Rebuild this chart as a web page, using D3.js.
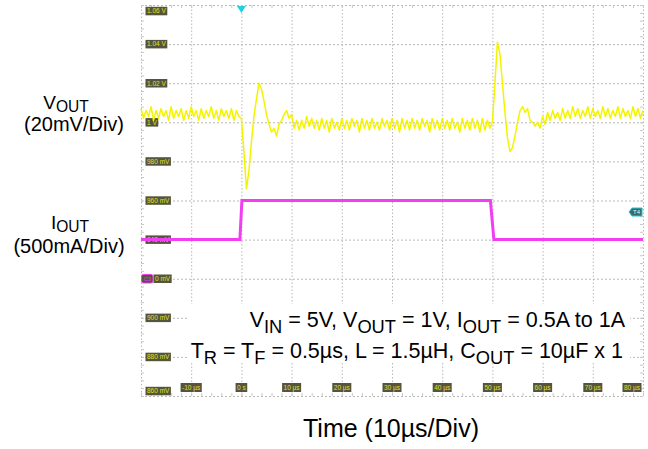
<!DOCTYPE html>
<html><head><meta charset="utf-8">
<script src="https://cdn.jsdelivr.net/npm/d3@7"></script>
<style>body{margin:0;background:#fff}svg{display:block}</style>
</head><body><svg id="c" width="648" height="449"></svg>
<script>
// ---------------- data ----------------
const timeTicks = [-10, 0, 10, 20, 30, 40, 50, 60, 70, 80];          // µs
const timeTickLabels = ["-10 µs","0 s","10 µs","20 µs","30 µs","40 µs","50 µs","60 µs","70 µs","80 µs"];
const voltTicks = [1060, 1040, 1020, 1000, 980, 960, 940, 920, 900, 880, 860];   // mV
const voltTickLabels = ["1.06 V","1.04 V","1.02 V","1 V","980 mV","960 mV","940 mV","0 mV","900 mV","880 mV","860 mV"];

// VOUT samples (mV), one every 0.5 µs starting at -20 µs
const voutStartUs = -20, voutStepUs = 0.5;
const voutMv = [
  1007,1002,1006,1003,1008,1001,1006,1002,1007,1003,
  1006,1001,1008,1002,1006,1003,1007,1001,1006,1002,
  1008,1003,1006,1001,1007,1002,1006,1003,1008,1002,
  1006,1001,1007,1003,1006,1002,1007,1001,1006,1003,
  1002, 985, 966, 975, 990,1003,1012,1020,1017,1011,
  1004, 999, 995, 997, 993, 999,1001,1004,1006,1002,
  1004, 997,1001, 996,1001, 997,1003, 998,1002, 997,
  1001, 996,1002, 997,1001, 995,1002, 997,1000, 996,
  1002, 997,1001, 996,1002, 998,1001, 995,1002, 997,
  1001, 996,1002, 997,1000, 996,1002, 998,1001, 996,
  1002, 997,1001, 995,1002, 997,1001, 996,1002, 997,
  1001, 996,1002, 998,1001, 995,1002, 997,1001, 996,
  1002, 997,1001, 996,1002, 997,1000, 995,1002, 997,
  1001, 996,1002, 997,1001, 995,1002, 996,1001, 997,
  1000,1020,1041,1035,1020,1005, 992, 985, 987, 993,
  1000,1006,1008,1005,1007,1001,1000, 998,1000, 997,
  1003, 999,1005,1001,1006,1002,1005,1001,1007,1002,
  1006,1002,1008,1003,1007,1002,1006,1003,1008,1002,
  1007,1003,1006,1002,1008,1003,1007,1002,1006,1003,
  1008,1002,1007,1003,1006,1002,1008,1003,1007,1002,
  1006
];

// IOUT (A), 500 mA/div, 0 A on the 920 mV grid line
const ioutTimeUs = [-20, -0.3, 0.1, 49.6, 50.3, 80];
const ioutAmps   = [0.5, 0.5, 1.0, 1.0, 0.5, 0.5];

// ---------------- drawing ----------------
const svg = d3.select("#c");
const X0 = 141, X1 = 643, Y0 = 5, Y1 = 396;
const x = d3.scaleLinear().domain([-20, 80]).range([X0, X1]);
const y = d3.scaleLinear().domain([860, 1060]).range([Y1, Y0]);
const yI = d3.scaleLinear().domain([0, 1]).range([y(920), y(960)]);

const grid = svg.append("g");
const vGrid = d3.axisBottom(x).tickValues(d3.range(-20, 81, 10)).tickSize(-(Y1 - Y0)).tickFormat("");
grid.append("g").attr("transform", `translate(0,${Y1})`).call(vGrid)
  .call(g => g.select(".domain").remove())
  .selectAll("line").attr("stroke", "#b8b8b8").attr("stroke-width", 1).attr("stroke-dasharray", "1.5,2");
const hGrid = d3.axisLeft(y).tickValues(d3.range(860, 1061, 20)).tickSize(-(X1 - X0)).tickFormat("");
grid.append("g").attr("transform", `translate(${X0},0)`).call(hGrid)
  .call(g => g.select(".domain").remove())
  .selectAll("line").attr("stroke", "#b8b8b8").attr("stroke-width", 1).attr("stroke-dasharray", "2,2");
const minorX = d3.range(-20, 80.01, 2);
const minorY = d3.range(860, 1060.01, 4);
[[d3.axisTop(x), `translate(0,${Y0})`], [d3.axisBottom(x), `translate(0,${Y1})`]].forEach(([ax, tr]) => {
  grid.append("g").attr("transform", tr).call(ax.tickValues(minorX).tickSize(-3).tickFormat(""))
    .call(g => g.select(".domain").remove())
    .selectAll("line").attr("stroke", "#c8c8c8");
});
[[d3.axisLeft(y), `translate(${X0},0)`], [d3.axisRight(y), `translate(${X1},0)`]].forEach(([ax, tr]) => {
  grid.append("g").attr("transform", tr).call(ax.tickValues(minorY).tickSize(-3).tickFormat(""))
    .call(g => g.select(".domain").remove())
    .selectAll("line").attr("stroke", "#c8c8c8");
});

// white panel behind the conditions text
svg.append("rect").attr("x", 188).attr("y", 304).attr("width", 442).attr("height", 59).attr("fill", "#fff");

// level labels (left)
const lblFont = "Liberation Sans, Arial, sans-serif";
const vl = svg.append("g");
voltTicks.forEach((v, i) => {
  let cy = y(v);
  if (i === 0) cy = y(v) + 6;
  if (i === voltTicks.length - 1) cy = y(v) - 5;
  const isC3 = v === 920;
  const lx = isC3 ? 155 : 147;
  const t = vl.append("text").attr("x", lx).attr("y", cy + 2.3)
    .attr("font-family", lblFont).attr("font-size", 6.5).attr("fill", "#e0e020").text(voltTickLabels[i]);
  const w = t.node().getComputedTextLength();
  vl.insert("rect", "text").attr("x", lx - 1.5).attr("y", cy - 4.2).attr("width", w + 3).attr("height", 8.5).attr("fill", "#55553f");
});
const tl = svg.append("g");
timeTicks.forEach((t, i) => {
  const tx = svg.append("text").attr("font-family", lblFont).attr("font-size", 6.5).text(timeTickLabels[i]);
  const w = tx.node().getComputedTextLength(); tx.remove();
  let cx = x(t);
  if (cx + w / 2 + 2 > X1 - 1) cx = X1 - 1 - w / 2 - 2;
  tl.append("rect").attr("x", cx - w / 2 - 1.5).attr("y", 383).attr("width", w + 3).attr("height", 9).attr("fill", "#55553f");
  tl.append("text").attr("x", cx).attr("y", 390).attr("text-anchor", "middle")
    .attr("font-family", lblFont).attr("font-size", 6.5).attr("fill", "#e0e020").text(timeTickLabels[i]);
});

// C3 ground marker
const c3y = y(920);
svg.append("rect").attr("x", 141.5).attr("y", c3y - 4.3).attr("width", 11.5).attr("height", 8.6).attr("rx", 2)
  .attr("fill", "#55553f").attr("stroke", "#f03cf0").attr("stroke-width", 1);
svg.append("text").attr("x", 147.2).attr("y", c3y + 2.2).attr("text-anchor", "middle")
  .attr("font-family", lblFont).attr("font-size", 5.5).attr("fill", "#f03cf0").text("C3");

// traces
const voutPts = voutMv.map((v, i) => [voutStartUs + i * voutStepUs, v]);
svg.append("path").datum(voutPts)
  .attr("d", d3.line().x(d => x(d[0])).y(d => y(d[1])))
  .attr("fill", "none").attr("stroke", "#f4f400").attr("stroke-width", 1.5).attr("stroke-linejoin", "round");
const ioutPts = ioutTimeUs.map((t, i) => [t, ioutAmps[i]]);
svg.append("path").datum(ioutPts)
  .attr("d", d3.line().x(d => x(d[0])).y(d => yI(d[1])))
  .attr("fill", "none").attr("stroke", "#f23ef2").attr("stroke-width", 3);

// trigger position marker (top) and trigger level marker (right)
const tx0 = x(0);
svg.append("path").attr("d", `M${tx0 - 4.5},${Y0 + 1}L${tx0 + 4.5},${Y0 + 1}L${tx0},${Y0 + 8}Z`).attr("fill", "#22d0e0");
const ty = 212;
svg.append("path").attr("d", `M${X1 - 14},${ty}L${X1 - 11},${ty - 4}L${X1 - 1},${ty - 4}L${X1 - 1},${ty + 4}L${X1 - 11},${ty + 4}Z`)
  .attr("fill", "#3a6a6a").attr("stroke", "#22c8d8").attr("stroke-width", 1);
svg.append("text").attr("x", X1 - 6.5).attr("y", ty + 2.3).attr("text-anchor", "middle")
  .attr("font-family", lblFont).attr("font-size", 6).attr("fill", "#dff").text("T4");

// text annotations
const font = "Liberation Sans, Arial, Helvetica, sans-serif";
function rich(parent, xx, yy, size, parts, anchor, subRatio, subShift) {
  const t = parent.append("text").attr("x", xx).attr("y", yy).attr("font-family", font)
    .attr("font-size", size).attr("fill", "#000").attr("text-anchor", anchor || "start");
  let prevSub = false;
  parts.forEach(p => {
    const ts = t.append("tspan").text(p[0]);
    if (p[1]) { ts.attr("font-size", size * subRatio).attr("dy", subShift); }
    else if (prevSub) { ts.attr("dy", -subShift); }
    prevSub = !!p[1];
  });
  return t;
}
const ann = svg.append("g");
rich(ann, 66, 109, 19, [["V"], ["OUT", true]], "middle", 0.82, 2.5);
ann.append("text").attr("x", 74).attr("y", 131).attr("text-anchor", "middle").attr("font-family", font)
  .attr("font-size", 20).text("(20mV/Div)");
rich(ann, 70, 229, 19, [["I"], ["OUT", true]], "middle", 0.82, 2.5);
ann.append("text").attr("x", 69).attr("y", 253).attr("text-anchor", "middle").attr("font-family", font)
  .attr("font-size", 20).text("(500mA/Div)");

rich(ann, 625, 327, 21.5, [["V"], ["IN", true], [" = 5V, V"], ["OUT", true], [" = 1V, I"], ["OUT", true], [" = 0.5A to 1A"]], "end", 0.85, 6);
rich(ann, 623, 358, 21.5, [["T"], ["R", true], [" = T"], ["F", true], [" = 0.5µs, L = 1.5µH, C"], ["OUT", true], [" = 10µF x 1"]], "end", 0.85, 6);
ann.append("text").attr("x", 391).attr("y", 437).attr("text-anchor", "middle").attr("font-family", font)
  .attr("font-size", 25).text("Time (10µs/Div)");
</script></body></html>
